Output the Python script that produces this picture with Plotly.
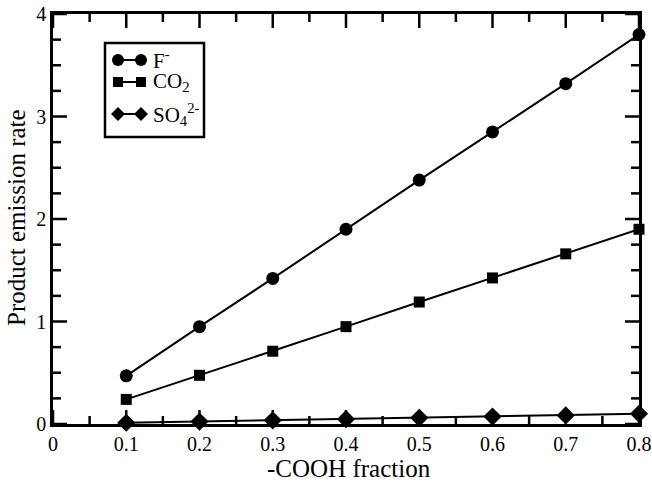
import plotly.graph_objects as go

x_frac = [0.1, 0.2, 0.3, 0.4, 0.5, 0.6, 0.7, 0.8]
f_rate = [0.47, 0.95, 1.42, 1.90, 2.38, 2.85, 3.32, 3.80]
co2_rate = [0.24, 0.475, 0.71, 0.95, 1.19, 1.425, 1.66, 1.90]
so4_rate = [0.012, 0.024, 0.036, 0.047, 0.06, 0.072, 0.084, 0.10]

x_major_ticks = [0, 0.1, 0.2, 0.3, 0.4, 0.5, 0.6, 0.7, 0.8]
x_minor_ticks = [0.05, 0.15, 0.25, 0.35, 0.45, 0.55, 0.65, 0.75]
y_major_ticks = [0, 1, 2, 3, 4]
y_minor_ticks = [0.25, 0.5, 0.75, 1.25, 1.5, 1.75, 2.25, 2.5, 2.75, 3.25, 3.5, 3.75]

series_names = ["F<sup>-</sup>", "CO<sub>2</sub>", "SO<sub>4</sub><sup>2-</sup>"]
series_vals = [f_rate, co2_rate, so4_rate]
symbols = ["circle", "square", "diamond"]
msizes = [13, 11, 14]

FONT = "Liberation Serif"
W, H = 652, 483
L, R, T, B = 53, 13, 14, 59
pw, ph = W - L - R, H - T - B
X_RANGE = [0, 0.8]
Y_RANGE = [0, 4]
MAJ, MIN = 14, 8
ux = (X_RANGE[1] - X_RANGE[0]) / pw   # data units per pixel
uy = (Y_RANGE[1] - Y_RANGE[0]) / ph

fig = go.Figure()


# inside ticks on all four sides, drawn as line markers at the tick values
def tick_trace(xs, ys, sym, length):
    return go.Scatter(x=xs, y=ys, mode="markers", showlegend=False, hoverinfo="skip",
                      cliponaxis=False,
                      marker=dict(symbol=sym, size=length / 1.4, color="black",
                                  line=dict(color="black", width=2.5)))


for vals, ln in ((x_major_ticks, MAJ), (x_minor_ticks, MIN)):
    fig.add_trace(tick_trace(vals, [Y_RANGE[0] + ln / 2 * uy] * len(vals), "line-ns", ln))
    fig.add_trace(tick_trace(vals, [Y_RANGE[1] - ln / 2 * uy] * len(vals), "line-ns", ln))
for vals, ln in ((y_major_ticks, MAJ), (y_minor_ticks, MIN)):
    fig.add_trace(tick_trace([X_RANGE[0] + ln / 2 * ux] * len(vals), vals, "line-ew", ln))
    fig.add_trace(tick_trace([X_RANGE[1] - ln / 2 * ux] * len(vals), vals, "line-ew", ln))

for name, vals, sym, ms in zip(series_names, series_vals, symbols, msizes):
    fig.add_trace(go.Scatter(
        x=x_frac, y=vals, mode="lines+markers", name=name,
        line=dict(color="black", width=2),
        marker=dict(symbol=sym, size=ms, color="black"),
        showlegend=False, cliponaxis=False))


def px_x(p):
    return (p - L) / pw


def px_y(p):
    return (H - B - p) / ph


# custom Grace-style legend (line with a marker at both ends)
shapes = [dict(type="rect", xref="paper", yref="paper",
               x0=px_x(105), x1=px_x(204), y0=px_y(137), y1=px_y(43),
               line=dict(color="black", width=2.5), fillcolor="white")]
annotations = []
row_y = [60, 82, 114]
lx0, lx1 = 118, 141
for i, (name, sym) in enumerate(zip(series_names, symbols)):
    ry = row_y[i]
    yy = px_y(ry)
    shapes.append(dict(type="line", xref="paper", yref="paper",
                       x0=px_x(lx0), x1=px_x(lx1), y0=yy, y1=yy,
                       line=dict(color="black", width=2)))
    for cx in (lx0, lx1):
        if sym == "circle":
            r = 6
            shapes.append(dict(type="circle", xref="paper", yref="paper",
                               x0=px_x(cx - r), x1=px_x(cx + r),
                               y0=px_y(ry + r), y1=px_y(ry - r),
                               fillcolor="black", line=dict(color="black", width=0)))
        elif sym == "square":
            r = 5
            shapes.append(dict(type="rect", xref="paper", yref="paper",
                               x0=px_x(cx - r), x1=px_x(cx + r),
                               y0=px_y(ry + r), y1=px_y(ry - r),
                               fillcolor="black", line=dict(color="black", width=0)))
        else:
            r = 7
            shapes.append(dict(type="path", xref="paper", yref="paper",
                               path=(f"M {px_x(cx - r)} {yy} L {px_x(cx)} {px_y(ry - r)} "
                                     f"L {px_x(cx + r)} {yy} L {px_x(cx)} {px_y(ry + r)} Z"),
                               fillcolor="black", line=dict(color="black", width=0)))
    annotations.append(dict(xref="paper", yref="paper", x=px_x(151), y=yy,
                            xanchor="left", yanchor="middle", showarrow=False,
                            text=name, font=dict(family=FONT, size=21, color="black")))

# axis titles
annotations.append(dict(xref="paper", yref="paper", x=px_x(349), y=px_y(468),
                        xanchor="center", yanchor="middle", showarrow=False,
                        text="-COOH fraction", font=dict(family=FONT, size=25, color="black")))
annotations.append(dict(xref="paper", yref="paper", x=px_x(16), y=px_y(218),
                        xanchor="center", yanchor="middle", showarrow=False, textangle=-90,
                        text="Product emission rate", font=dict(family=FONT, size=25, color="black")))

axis_common = dict(
    showline=True, linecolor="black", linewidth=2.5, mirror=True,
    ticks="", showgrid=False, zeroline=False, automargin=False,
    tickfont=dict(family=FONT, size=20, color="black"),
)

fig.update_layout(
    width=W, height=H,
    margin=dict(l=L, r=R, t=T, b=B, autoexpand=False),
    paper_bgcolor="white", plot_bgcolor="white",
    xaxis=dict(range=X_RANGE, tickmode="array", tickvals=x_major_ticks,
               ticktext=[f"{v:g}" for v in x_major_ticks], **axis_common),
    yaxis=dict(range=Y_RANGE, tickmode="array", tickvals=y_major_ticks,
               ticktext=[f"{v:g}" for v in y_major_ticks], **axis_common),
    shapes=shapes, annotations=annotations,
)

fig.write_html("out.html")
